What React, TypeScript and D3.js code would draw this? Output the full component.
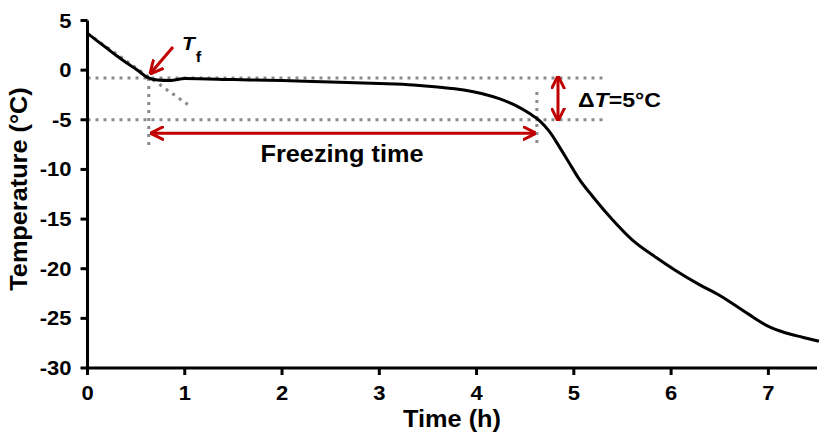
import React from "react";
import * as d3 from "d3";

const timeH = [0, 0.1, 0.2, 0.3, 0.4, 0.5, 0.62, 0.72, 0.85, 1.0, 1.5, 2.0, 2.5, 3.0, 3.35, 3.6, 3.87, 4.05, 4.24, 4.4, 4.55, 4.65, 4.75, 4.85, 4.95, 5.05, 5.2, 5.4, 5.6, 5.85, 6.05, 6.29, 6.5, 6.63, 6.8, 6.98, 7.19, 7.35, 7.52];
const tempC = [3.7, 2.95, 2.2, 1.45, 0.75, 0.1, -0.75, -1.0, -1.05, -0.85, -0.95, -1.05, -1.2, -1.35, -1.5, -1.7, -2.0, -2.35, -2.9, -3.55, -4.4, -5.1, -6.2, -7.7, -9.3, -10.9, -12.8, -15.1, -17.1, -18.9, -20.2, -21.6, -22.7, -23.5, -24.6, -25.7, -26.5, -26.9, -27.3];

const xTicks = [0, 1, 2, 3, 4, 5, 6, 7];
const yTicks = [5, 0, -5, -10, -15, -20, -25, -30];

const tf = { t: 0.63, T: -0.8 };
const tEnd = { t: 4.62, T: -5 };
const tangentEnd = { t: 1.037, T: -3.5 };

export default function App() {
  const W = 827, H = 445;
  const x = d3.scaleLinear().domain([0, 7.5]).range([87.5, 817]);
  const y = d3.scaleLinear().domain([5, -30]).range([20.5, 368]);
  const line = d3.line<number>().x((_, i) => x(timeH[i])).y((d) => y(d)).curve(d3.curveMonotoneX);
  const font = "'Liberation Sans', Arial, sans-serif";
  const red = "#c00000";
  const grey = "#8a8a8a";
  const dot = { stroke: grey, strokeWidth: 3, strokeDasharray: "3,5", fill: "none" };
  const sx = 1.1;
  return (
    <svg width={W} height={H} style={{ position: "absolute", left: 0, top: 0 }} fontFamily={font}>
      <defs>
        <marker id="ah" viewBox="0 0 10 10" refX="9" refY="5" markerWidth="4.5" markerHeight="5" orient="auto-start-reverse">
          <path d="M0,0 L10,5 L0,10" fill="none" stroke={red} strokeWidth="2.2" />
        </marker>
      </defs>
      {/* dotted guides */}
      <line x1={x(0)} x2={x(5.34)} y1={y(tf.T)} y2={y(tf.T)} {...dot} />
      <line x1={x(0)} x2={x(5.34)} y1={y(-5)} y2={y(-5)} {...dot} />
      <line x1={x(tf.t)} x2={x(tf.t)} y1={y(tf.T)} y2={y(-7.6)} {...dot} />
      <line x1={x(tEnd.t)} x2={x(tEnd.t)} y1={y(-2.2)} y2={y(-7.8)} {...dot} />
      <line x1={x(0)} x2={x(tangentEnd.t)} y1={y(3.7)} y2={y(tangentEnd.T)} {...dot} />
      {/* curve */}
      <path d={line(tempC) || ""} fill="none" stroke="#000" strokeWidth={3} />
      {/* axes */}
      <line x1={x(0)} x2={x(0)} y1={y(5)} y2={y(-30)} stroke="#000" strokeWidth={3} />
      <line x1={x(0)} x2={x(7.5)} y1={y(-30)} y2={y(-30)} stroke="#000" strokeWidth={3} />
      {yTicks.map((v) => (
        <g key={v}>
          <line x1={x(0) - 7} x2={x(0)} y1={y(v)} y2={y(v)} stroke="#000" strokeWidth={3} />
          <text transform={`translate(${x(0) - 16},${y(v) + 7}) scale(${sx},1)`} textAnchor="end" fontSize={20} fontWeight="bold">{v}</text>
        </g>
      ))}
      {xTicks.map((v) => (
        <g key={v}>
          <line x1={x(v)} x2={x(v)} y1={y(-30)} y2={y(-30) + 7} stroke="#000" strokeWidth={3} />
          <text transform={`translate(${x(v)},400) scale(${sx},1)`} textAnchor="middle" fontSize={20} fontWeight="bold">{v}</text>
        </g>
      ))}
      <text transform={`translate(452,427) scale(${sx},1)`} textAnchor="middle" fontSize={23} fontWeight="bold">Time (h)</text>
      <text transform={`translate(27,189) rotate(-90) scale(${sx},1)`} textAnchor="middle" fontSize={23} fontWeight="bold">Temperature (°C)</text>
      {/* annotations */}
      <line x1={x(tf.t) + 3} x2={x(tEnd.t) - 2} y1={y(-6.35)} y2={y(-6.35)} stroke={red} strokeWidth={3} markerStart="url(#ah)" markerEnd="url(#ah)" />
      <text transform={`translate(342,162) scale(${sx},1)`} textAnchor="middle" fontSize={23} fontWeight="bold">Freezing time</text>
      <line x1={558} x2={558} y1={y(-0.7)} y2={y(-5)} stroke={red} strokeWidth={3} markerStart="url(#ah)" markerEnd="url(#ah)" />
      <text transform={`translate(578,107) scale(${sx},1)`} fontSize={21} fontWeight="bold">Δ<tspan fontStyle="italic">T</tspan>=5°C</text>
      <line x1={173} y1={47} x2={x(tf.t) + 2} y2={y(tf.T) - 5} stroke={red} strokeWidth={3} markerEnd="url(#ah)" />
      <text transform={`translate(182,50) scale(${sx},1)`} fontSize={19} fontWeight="bold" fontStyle="italic">T<tspan fontSize={15} fontStyle="normal" dx="1" dy="12">f</tspan></text>
    </svg>
  );
}
